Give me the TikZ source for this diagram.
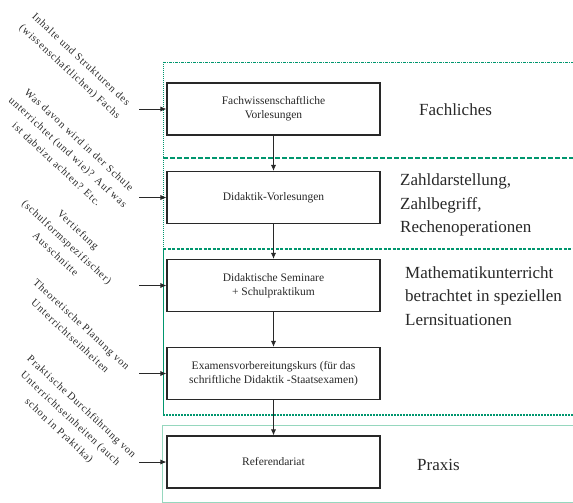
\documentclass[tikz,border=0pt]{standalone}
\usepackage{fontspec}
\setmainfont{Liberation Serif}
\usetikzlibrary{arrows.meta}
\definecolor{frame}{RGB}{0,150,110}
\definecolor{framelight}{RGB}{150,215,190}
\definecolor{ink}{RGB}{40,40,40}
\tikzset{
  stepbox/.style={draw=ink, line width=1.1pt, minimum width=213pt, minimum height=52pt,
    align=center, text=ink, inner sep=2pt, font=\fontsize{11.5}{14}\selectfont},
  sidetext/.style={rotate=-43, align=center, text=ink, inner sep=0pt,
    font=\fontsize{10.5}{16.5}\selectfont\addfontfeatures{LetterSpace=8}},
  biglabel/.style={anchor=west, align=left, text=ink, inner sep=0pt,
    font=\fontsize{17}{23.5}\selectfont},
  conn/.style={draw=ink, line width=0.8pt, -{Latex[length=6pt,width=5pt]}},
}
\begin{document}
\begin{tikzpicture}[x=1pt,y=-1pt]
\useasboundingbox (0,0) rectangle (573,503);
% region frames
\draw[frame, line width=0.8pt, dash pattern=on 1pt off 1pt] (163,62) -- (163,249);
\draw[frame, line width=0.8pt, dash pattern=on 3pt off 1pt on 1pt off 1pt] (163,62) -- (580,62);
\draw[frame, line width=1.3pt, dash pattern=on 5pt off 2pt] (163,158) -- (580,158);
\draw[frame, line width=1.3pt, dash pattern=on 3pt off 1.5pt] (163,249) -- (580,249);
\draw[frame, line width=1pt] (163,249) -- (163,415);
\draw[frame, line width=1.5pt, dash pattern=on 2pt off 1pt] (163,415) -- (580,415);
\draw[framelight, line width=1pt] (580,425) -- (162,425) -- (162,502) -- (580,502);

% boxes
\node[stepbox] (b1) at (273.5,109) {Fachwissenschaftliche\\Vorlesungen};
\node[stepbox] (b2) at (273.5,197.5) {Didaktik-Vorlesungen};
\node[stepbox] (b3) at (273.5,285.5) {Didaktische Seminare\\+ Schulpraktikum};
\node[stepbox] (b4) at (273.5,373.5) {Examensvorbereitungskurs (für das\\schriftliche Didaktik -Staatsexamen)};
\node[stepbox] (b5) at (273.5,462) {Referendariat};

\draw[conn] (b1) -- (b2);
\draw[conn] (b2) -- (b3);
\draw[conn] (b3) -- (b4);
\draw[conn] (b4) -- (b5);

% left inputs
\coordinate (s1) at (139,109);
\coordinate (s2) at (139,197.5);
\coordinate (s3) at (139,285.5);
\coordinate (s4) at (139,373.5);
\coordinate (s5) at (139,462);
\draw[conn] (s1) -- (b1);
\draw[conn] (s2) -- (b2);
\draw[conn] (s3) -- (b3);
\draw[conn] (s4) -- (b4);
\draw[conn] (s5) -- (b5);

\node[sidetext] (t1) at (75,66) {Inhalte und Strukturen des\\(wissenschaftlichen) Fachs};
\node[sidetext] (t2) at (68,152) {Was davon wird in der Schule\\unterrichtet (und wie)? Auf was\\ist dabeizu achten? Etc.};
\node[sidetext] (t3) at (67,242) {Vertiefung\\(schulformspezifischer)\\Ausschnitte};
\node[sidetext] (t4) at (76,330) {Theoretische Planung von\\Unterrichtseinheiten};
\node[sidetext] (t5) at (70,419) {Praktische Durchführung von\\Unterrichtseinheiten (auch\\schon in Praktika)};

% region labels
\node[biglabel] (l1) at (419,110) {Fachliches};
\node[biglabel] (l2) at (400,205) {Zahldarstellung,\\Zahlbegriff,\\Rechenoperationen};
\node[biglabel] (l3) at (405,296) {Mathematikunterricht\\betrachtet in speziellen\\Lernsituationen};
\node[biglabel] (l4) at (417,465) {Praxis};
\end{tikzpicture}
\end{document}
